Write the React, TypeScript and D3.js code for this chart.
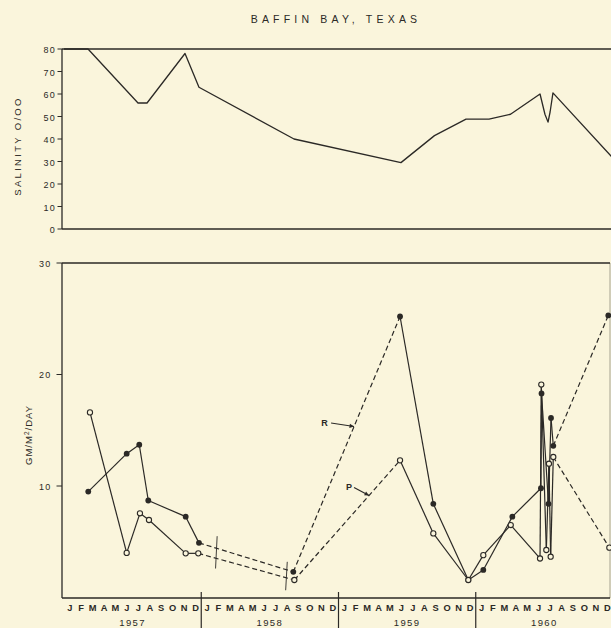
import React from 'react';
import * as d3 from 'd3';

const WIDTH = 611;
const HEIGHT = 628;

// Time is measured in months since 1 January 1957.
const monthLetters = ['J', 'F', 'M', 'A', 'M', 'J', 'J', 'A', 'S', 'O', 'N', 'D'];
const years = [1957, 1958, 1959, 1960];
const salinityTicks = [0, 10, 20, 30, 40, 50, 60, 70, 80];
const rateTicks = [10, 20, 30];

// Salinity, parts per thousand
const salinityMonth = [0, 2.1, 6.47, 7.26, 10.58, 11.8, 20.11, 29.46, 32.39, 35.15, 37.16, 39.04, 41.62, 42.05, 42.32, 42.5, 42.75, 47.9];
const salinityValue = [80, 80, 56, 56, 78, 63, 40, 29.5, 41.5, 48.8, 48.8, 51, 60, 51, 47.5, 52, 60.5, 32];

// R — community respiration, g/m²/day (filled markers)
const rMonth = [2.12, 5.48, 6.58, 7.37, 10.64, 11.8, 20.05, 29.38, 32.29, 35.35, 36.66, 39.2, 41.7, 41.75, 42.36, 42.58, 42.78, 47.59];
const rValue = [9.5, 12.9, 13.7, 8.7, 7.25, 4.9, 2.3, 25.2, 8.4, 1.57, 2.47, 7.25, 9.8, 18.3, 8.4, 16.1, 13.6, 25.3];
// segments (start index) spanning a sampling gap
const rGapSegments = [5, 6, 16];

// P — gross production, g/m²/day (open markers)
const pMonth = [2.27, 5.48, 6.64, 7.43, 10.64, 11.74, 20.14, 29.38, 32.29, 35.35, 36.66, 39.06, 41.62, 41.73, 42.17, 42.4, 42.55, 42.78, 47.68];
const pValue = [16.6, 4.0, 7.55, 6.95, 3.96, 3.96, 1.57, 12.3, 5.75, 1.57, 3.8, 6.5, 3.5, 19.1, 4.26, 12.0, 3.66, 12.6, 4.47];
const pGapSegments = [5, 6, 17];

// break marks across the gap segments
const breakMonth = [13.32, 19.45];
const breakHigh = [5.5, 3.2];
const breakLow = [2.6, 0.65];

// where the series labels point
const rPointerMonth = 25.36;
const pPointerMonth = 26.67;

const INK = '#2b2926';
const PAPER = '#faf5dc';
const FONT = '"Liberation Sans", Arial, sans-serif';

const left = 62;
const right = 610;
const x = d3.scaleLinear().domain([0, 48]).range([64, 613]);
const ySal = d3.scaleLinear().domain([0, 80]).range([229, 49]);
const yRate = d3.scaleLinear().domain([0, 30]).range([597.5, 263]);

function valueAt(months: number[], values: number[], m: number) {
  for (let i = 0; i < months.length - 1; i++) {
    if (m >= months[i] && m <= months[i + 1]) {
      const t = (m - months[i]) / (months[i + 1] - months[i]);
      return values[i] + t * (values[i + 1] - values[i]);
    }
  }
  return values[values.length - 1];
}

function segmentPaths(months: number[], values: number[], gaps: number[]) {
  const line = d3
    .line<[number, number]>()
    .x((d) => x(d[0]))
    .y((d) => yRate(d[1]));
  const out: { d: string; dashed: boolean }[] = [];
  for (let i = 0; i < months.length - 1; i++) {
    out.push({
      d: line([
        [months[i], values[i]],
        [months[i + 1], values[i + 1]],
      ]) as string,
      dashed: gaps.includes(i),
    });
  }
  return out;
}

function Pointer({ label, months, values, m, dx, dy, tx, ty }: any) {
  const tipX = x(m);
  const tipY = yRate(valueAt(months, values, m));
  const sx = tipX + dx;
  const sy = tipY + dy;
  const ang = Math.atan2(tipY - sy, tipX - sx);
  const len = 5;
  const spread = 0.45;
  const ax1 = tipX - len * Math.cos(ang - spread);
  const ay1 = tipY - len * Math.sin(ang - spread);
  const ax2 = tipX - len * Math.cos(ang + spread);
  const ay2 = tipY - len * Math.sin(ang + spread);
  return (
    <g>
      <text x={tipX + tx} y={tipY + ty} fontSize={9} fontWeight="bold" textAnchor="middle" fill={INK} fontFamily={FONT}>
        {label}
      </text>
      <line x1={sx} y1={sy} x2={tipX} y2={tipY} stroke={INK} strokeWidth={1.1} />
      <path d={`M${tipX},${tipY}L${ax1},${ay1}L${ax2},${ay2}Z`} fill={INK} />
    </g>
  );
}

export default function App() {
  const salLine = d3
    .line<number>()
    .x((_, i) => x(salinityMonth[i]))
    .y((d) => ySal(d));

  const rSegs = segmentPaths(rMonth, rValue, rGapSegments);
  const pSegs = segmentPaths(pMonth, pValue, pGapSegments);

  return (
    <svg
      width={WIDTH}
      height={HEIGHT}
      style={{ position: 'fixed', left: 0, top: 0, display: 'block' }}
      fontFamily={FONT}
    >
      <defs>
        <clipPath id="topClip">
          <rect x={left} y={40} width={WIDTH - left} height={190} />
        </clipPath>
        <clipPath id="botClip">
          <rect x={left} y={255} width={right - left + 2} height={345} />
        </clipPath>
      </defs>
      <rect x={0} y={0} width={WIDTH} height={HEIGHT} fill={PAPER} />

      {/* title */}
      <text x={336} y={23} textAnchor="middle" fontSize={10.5} letterSpacing={4.2} fill={INK}>
        BAFFIN BAY, TEXAS
      </text>

      {/* salinity panel */}
      <g>
        <line x1={left} y1={ySal(80)} x2={WIDTH} y2={ySal(80)} stroke={INK} strokeWidth={1.3} />
        <line x1={left} y1={ySal(0)} x2={WIDTH} y2={ySal(0)} stroke={INK} strokeWidth={1.3} />
        <line x1={left} y1={ySal(80)} x2={left} y2={ySal(0)} stroke={INK} strokeWidth={1.3} />
        {salinityTicks.map((t) => (
          <g key={t}>
            <line x1={57.5} x2={left} y1={ySal(t)} y2={ySal(t)} stroke={INK} strokeWidth={1} />
            <text x={56} y={ySal(t) + 4} textAnchor="end" fontSize={9} letterSpacing={1.3} fill={INK}>
              {t}
            </text>
          </g>
        ))}
        <text
          transform={`translate(21,${146}) rotate(-90)`}
          textAnchor="middle"
          fontSize={9.5}
          letterSpacing={2.3}
          fill={INK}
        >
          SALINITY O/OO
        </text>
        <path
          d={salLine(salinityValue) as string}
          fill="none"
          stroke={INK}
          strokeWidth={1.3}
          strokeLinejoin="round"
          clipPath="url(#topClip)"
        />
      </g>

      {/* production / respiration panel */}
      <g>
        <line x1={left} y1={yRate(30)} x2={right} y2={yRate(30)} stroke={INK} strokeWidth={1.3} />
        <line x1={left} y1={598} x2={right} y2={598} stroke={INK} strokeWidth={1.3} />
        <line x1={left} y1={yRate(30)} x2={left} y2={598} stroke={INK} strokeWidth={1.3} />
        <line x1={right} y1={yRate(30)} x2={right} y2={598} stroke={INK} strokeWidth={0.8} strokeOpacity={0.5} />
        {rateTicks.map((t) => (
          <g key={t}>
            <line x1={56.5} x2={left} y1={yRate(t)} y2={yRate(t)} stroke={INK} strokeWidth={1} />
            <text x={51.5} y={yRate(t) + 3.5} textAnchor="end" fontSize={9} letterSpacing={1.2} fill={INK}>
              {t}
            </text>
          </g>
        ))}
        <text
          transform={`translate(32,${435}) rotate(-90)`}
          textAnchor="middle"
          fontSize={9.5}
          letterSpacing={1}
          fill={INK}
        >
          GM/M<tspan fontSize={6.5} dy={-3.5}>2</tspan>
          <tspan dy={3.5}>/DAY</tspan>
        </text>

        <g clipPath="url(#botClip)">
          {pSegs.map((s, i) => (
            <path
              key={'p' + i}
              d={s.d}
              fill="none"
              stroke={INK}
              strokeWidth={1.2}
              strokeDasharray={s.dashed ? '5,3' : undefined}
            />
          ))}
          {rSegs.map((s, i) => (
            <path
              key={'r' + i}
              d={s.d}
              fill="none"
              stroke={INK}
              strokeWidth={1.2}
              strokeDasharray={s.dashed ? '5,3' : undefined}
            />
          ))}
          {breakMonth.map((m, i) => (
            <line
              key={'b' + i}
              x1={x(m) + 0.8}
              y1={yRate(breakHigh[i])}
              x2={x(m) - 0.8}
              y2={yRate(breakLow[i])}
              stroke={INK}
              strokeWidth={0.9}
            />
          ))}
          {rMonth.map((m, i) => (
            <circle key={'rc' + i} cx={x(m)} cy={yRate(rValue[i])} r={2.9} fill={INK} />
          ))}
          {pMonth.map((m, i) => (
            <circle
              key={'pc' + i}
              cx={x(m)}
              cy={yRate(pValue[i])}
              r={2.6}
              fill={PAPER}
              stroke={INK}
              strokeWidth={1.1}
            />
          ))}
        </g>

        <Pointer label="R" months={rMonth} values={rValue} m={rPointerMonth} dx={-23} dy={-3.5} tx={-29.5} ty={-0.5} />
        <Pointer label="P" months={pMonth} values={pValue} m={pPointerMonth} dx={-15} dy={-8} tx={-20} ty={-5} />
      </g>

      {/* time axis */}
      <g>
        {years.map((yr, k) => (
          <g key={yr}>
            {monthLetters.map((l, i) => (
              <text
                key={i}
                x={x(k * 12 + i + 0.5)}
                y={610.5}
                textAnchor="middle"
                fontSize={9.3}
                fontWeight="bold"
                fill={INK}
              >
                {l}
              </text>
            ))}
            <text x={x(k * 12 + 6)} y={626} textAnchor="middle" fontSize={9.5} letterSpacing={1.4} fill={INK}>
              {yr}
            </text>
            {k > 0 && (
              <line x1={x(k * 12)} x2={x(k * 12)} y1={592} y2={HEIGHT} stroke={INK} strokeWidth={1.2} />
            )}
          </g>
        ))}
      </g>
    </svg>
  );
}
